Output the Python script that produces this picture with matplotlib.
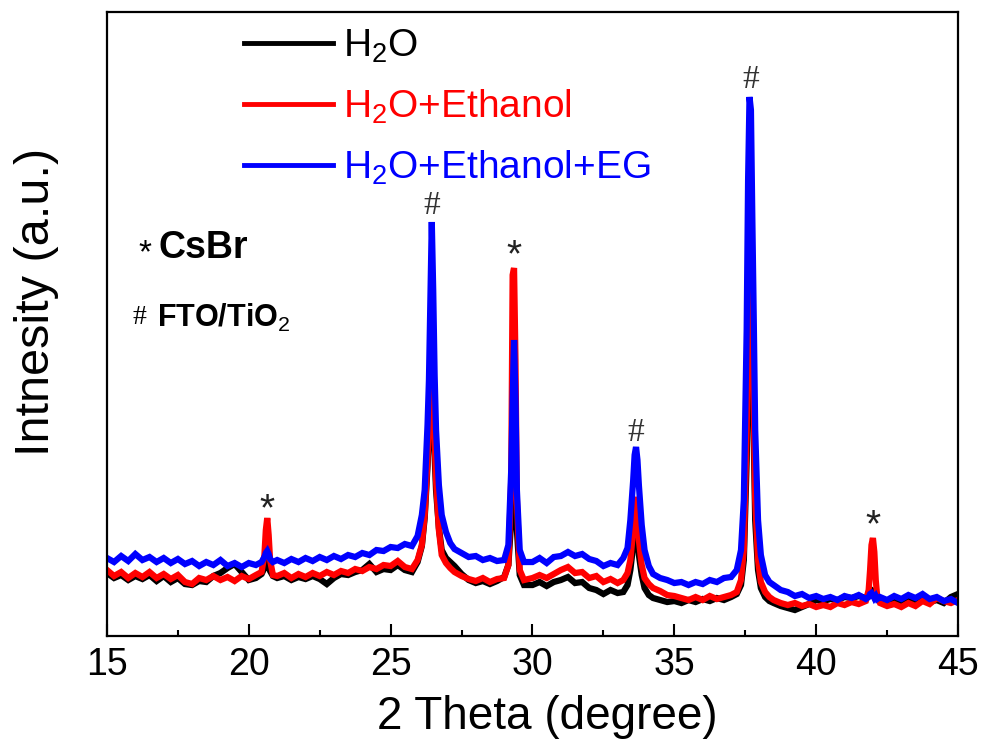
import numpy as np
import matplotlib
matplotlib.use('Agg')
import matplotlib.pyplot as plt
from matplotlib.ticker import MultipleLocator

plt.rcParams['font.family'] = ['Liberation Sans', 'DejaVu Sans']
plt.rcParams['mathtext.fontset'] = 'custom'
plt.rcParams['mathtext.rm'] = 'Liberation Sans'
plt.rcParams['mathtext.it'] = 'Liberation Sans'

# 2 theta sample positions (baseline every 0.25 deg, denser around the peaks)
two_theta = [
    15.0, 15.25, 15.5, 15.75, 16.0, 16.25, 16.5, 16.75, 17.0, 17.25, 17.5, 17.75,
    18.0, 18.25, 18.5, 18.75, 19.0, 19.25, 19.5, 19.75, 20.0, 20.25,
    20.45, 20.55, 20.6, 20.65, 20.7, 20.75, 20.85,
    21.0, 21.25, 21.5, 21.75, 22.0, 22.25, 22.5, 22.75, 23.0, 23.25, 23.5, 23.75,
    24.0, 24.25, 24.5, 24.75, 25.0, 25.25, 25.5, 25.75,
    25.95, 26.1, 26.2, 26.3, 26.35, 26.4, 26.45, 26.5, 26.55, 26.6, 26.7, 26.8, 26.95, 27.1,
    27.25, 27.5, 27.75, 28.0, 28.25, 28.5, 28.75,
    29.0, 29.15, 29.25, 29.3, 29.35, 29.4, 29.45, 29.55, 29.7,
    30.0, 30.25, 30.5, 30.75, 31.0, 31.25, 31.5, 31.75, 32.0, 32.25, 32.5, 32.75, 33.0,
    33.2, 33.35, 33.45, 33.55, 33.6, 33.65, 33.7, 33.75, 33.85, 33.95, 34.1,
    34.25, 34.5, 34.75, 35.0, 35.25, 35.5, 35.75, 36.0, 36.25, 36.5, 36.75, 37.0,
    37.2, 37.35, 37.45, 37.55, 37.6, 37.65, 37.7, 37.75, 37.8, 37.85, 37.95, 38.05, 38.2, 38.35,
    38.5, 38.75, 39.0, 39.25, 39.5, 39.75, 40.0, 40.25, 40.5, 40.75, 41.0, 41.25, 41.5, 41.75,
    41.85, 41.9, 41.95, 42.0, 42.05, 42.1, 42.15,
    42.25, 42.5, 42.75, 43.0, 43.25, 43.5, 43.75, 44.0, 44.25, 44.5, 44.75, 45.0,
]

h2o = [
    63, 58, 61, 56, 60, 57, 61, 55, 60, 54, 58, 52, 51, 55, 54, 60, 63, 68, 72, 64, 56, 58,
    62, 68, 72, 74, 70, 65, 60,
    58, 60, 56, 59, 57, 60, 57, 52, 58, 62, 61, 64, 66, 72, 64, 67, 66, 71, 66, 64,
    74, 90, 118, 170, 206, 231, 236, 216, 181, 146, 108, 86, 78, 74,
    70, 62, 56, 53, 55, 52, 55,
    59, 71, 116, 186, 216, 176, 106, 61, 51,
    51, 54, 50, 54, 56, 59, 53, 54, 48, 46, 42, 46, 43,
    44, 51, 66, 91, 106, 111, 101, 81, 61, 48, 41,
    38, 36, 34, 35, 33, 36, 34, 37, 35, 38, 36, 39,
    42, 51, 76, 176, 256, 326, 336, 296, 196, 116, 66, 48, 39, 35,
    33, 30, 28, 26, 29, 32, 36, 35, 37, 36, 39, 38, 40, 38,
    40, 44, 46, 45, 42, 40, 38,
    36, 33, 35, 33, 36, 33, 36, 34, 36, 33, 39, 42,
]

h2o_ethanol = [
    66, 60, 64, 58, 63, 59, 64, 58, 62, 57, 61, 54, 52, 58, 56, 60, 56, 59, 55, 60, 57, 61,
    64, 81, 106, 118, 101, 76, 61,
    60, 63, 58, 62, 59, 63, 60, 64, 61, 65, 63, 67, 65, 69, 67, 71, 70, 75, 69, 67,
    76, 91, 121, 176, 216, 251, 254, 236, 196, 156, 106, 81, 73, 68,
    64, 60, 57, 55, 58, 54, 57,
    58, 71, 156, 361, 368, 276, 136, 66, 56,
    58, 61, 58, 62, 66, 69, 63, 64, 58, 60, 54, 57, 53,
    56, 63, 76, 106, 131, 139, 126, 96, 71, 58, 52,
    48, 45, 41, 40, 38, 36, 39, 36, 40, 37, 39, 41,
    44, 56, 86, 206, 306, 381, 386, 336, 226, 136, 76, 54, 44, 39,
    36, 33, 31, 33, 30, 32, 29, 31, 29, 33, 31, 34, 32, 35,
    46, 66, 91, 98, 84, 56, 40,
    33, 30, 32, 29, 33, 30, 35, 32, 38, 35, 33, 36,
]

h2o_ethanol_eg = [
    78, 74, 80, 75, 82, 76, 79, 74, 78, 73, 77, 72, 75, 70, 74, 71, 76, 70, 73, 69, 73, 71,
    74, 79, 83, 85, 82, 77, 74,
    76, 73, 77, 74, 78, 75, 79, 76, 80, 77, 81, 79, 83, 81, 86, 85, 89, 88, 92, 90,
    100, 121, 146, 211, 256, 336, 414, 346, 261, 206, 151, 121, 104, 93,
    87, 83, 79, 80, 76, 78, 75,
    76, 91, 166, 236, 296, 236, 146, 86, 74,
    74, 78, 73, 79, 80, 84, 80, 82, 77, 75, 70, 73, 71,
    78, 88, 116, 156, 181, 189, 176, 151, 111, 86, 70,
    62, 58, 56, 53, 54, 51, 54, 52, 56, 54, 58, 59,
    66, 86, 136, 306, 456, 539, 526, 416, 316, 206, 116, 81, 61, 54,
    51, 46, 44, 40, 42, 38, 40, 37, 39, 36, 40, 38, 41, 37,
    39, 42, 43, 41, 38, 40, 37,
    39, 36, 40, 37, 41, 38, 42, 37, 39, 35, 37, 33,
]

labels = ['H$_2$O', 'H$_2$O+Ethanol', 'H$_2$O+Ethanol+EG']
colors = ['black', '#ff0000', '#0000ff']

# peak marks: (position, height of the symbol, symbol)
mark_pos = [20.65, 26.45, 29.35, 33.65, 37.7, 42.0]
mark_y = [126, 430, 380, 203, 556, 110]
mark_sym = ['*', '#', '*', '#', '#', '*']

fig = plt.figure(figsize=(9.84, 7.48), dpi=100)
ax = fig.add_axes([0.1087, 0.1497, 0.8649, 0.8343])

series = [h2o, h2o_ethanol, h2o_ethanol_eg]
for ys, lab, col in zip(series, labels, colors):
    ax.plot(two_theta, ys, color=col, lw=4.5, label=lab, solid_joinstyle='miter')

ax.set_xlim(15, 45)
ax.set_ylim(0, 624)
ax.xaxis.set_major_locator(MultipleLocator(5))
ax.xaxis.set_minor_locator(MultipleLocator(2.5))
ax.set_yticks([])
ax.tick_params(axis='x', which='major', direction='in', length=8.5, width=1.5,
               labelsize=27, pad=8, top=False)
ax.tick_params(axis='x', which='minor', direction='in', length=4.3, width=1.5, top=False)
for s in ax.spines.values():
    s.set_linewidth(1.6)

ax.set_xlabel('2 Theta (degree)', fontsize=33)
ax.xaxis.set_label_coords(0.518, -0.095)
ax.set_ylabel('Intnesity (a.u.)', fontsize=35)
ax.yaxis.set_label_coords(-0.056, 0.535)

for xp, yp, sym in zip(mark_pos, mark_y, mark_sym):
    if sym == '#':
        ax.text(xp, yp, sym, fontsize=24, ha='center', va='center',
                family=['Liberation Serif'], color='#333333')
    else:
        ax.text(xp, yp, sym, fontsize=28, ha='center', va='center', color='#222222')

ax.text(16.1, 382, '*', fontsize=24, ha='left', va='center')
ax.text(16.8, 388, 'CsBr', fontsize=27, fontweight='bold', ha='left', va='center')
ax.text(15.9, 318, '#', fontsize=20, ha='left', va='center', family=['Liberation Serif'])
ax.text(16.75, 318, 'FTO/TiO$_2$', fontsize=22, fontweight='bold', ha='left', va='center')

leg = ax.legend(loc='upper left', bbox_to_anchor=(0.161, 0.975), frameon=False,
                fontsize=28, handlelength=2.3, handletextpad=0.25, labelspacing=0.58,
                borderpad=0, borderaxespad=0)
for txt, col in zip(leg.get_texts(), colors):
    txt.set_color(col)
for ln in leg.get_lines():
    ln.set_linewidth(3.5)

fig.savefig('out.png', dpi=100)
